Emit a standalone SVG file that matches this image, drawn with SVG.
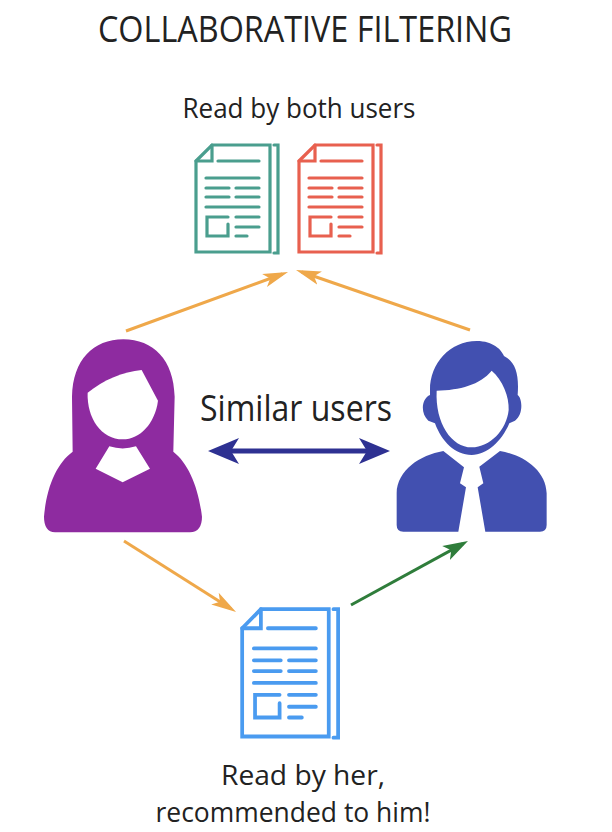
<svg xmlns="http://www.w3.org/2000/svg" xmlns:xlink="http://www.w3.org/1999/xlink" width="612" height="832" viewBox="0 0 612 832">
<style>
text{font-family:"Open Sans","Liberation Sans",sans-serif;fill:#222;text-anchor:middle}
.doc{fill:none;stroke:currentColor;stroke-width:3.2;stroke-linecap:round;stroke-linejoin:miter}
.conn{fill:none;stroke-width:3}
.conn.both{stroke-width:5}
</style>
<defs>
<symbol id="doc" overflow="visible">
<g class="doc">
<path d="M1,17 L17,1 H75 V108 H1 Z"/>
<path d="M17,1 V17 H1"/>
<path d="M79,1 H83 V109 H79"/>
<path d="M23,17 H64 M11,34 H64 M11,44 H34 M41,44 H64 M11,53 H34 M41,53 H64 M11,63 H64 M41,73 H64 M41,83 H64 M41,92 H52"/>
<path d="M33,73 H12 V92 H33 V80"/>
</g>
</symbol>
<marker id="hO" markerUnits="userSpaceOnUse" markerWidth="26" markerHeight="18" refX="19" refY="9" orient="auto"><path d="M0,2 L25,9 L0,16 L6,9 Z" fill="#EFA84A"/></marker>
<marker id="hG" markerUnits="userSpaceOnUse" markerWidth="26" markerHeight="18" refX="19" refY="9" orient="auto"><path d="M0,1 L25,9 L0,17 L6,9 Z" fill="#2F7D3B"/></marker>
<marker id="hB" markerUnits="userSpaceOnUse" markerWidth="32" markerHeight="28" refX="23" refY="14" orient="auto-start-reverse"><path d="M0,1 L31,14 L0,27 L8,14 Z" fill="#2E3192"/></marker>
</defs>
<text id="title" x="305" y="42" font-size="36" textLength="414" lengthAdjust="spacingAndGlyphs">COLLABORATIVE FILTERING</text>
<text id="label-both" x="299" y="118" font-size="28" textLength="233" lengthAdjust="spacingAndGlyphs">Read by both users</text>
<text id="label-similar" x="296" y="421" font-size="36" textLength="192" lengthAdjust="spacingAndGlyphs">Similar users</text>
<text id="label-her" x="303" y="785" font-size="28" textLength="164" lengthAdjust="spacingAndGlyphs">Read by her,</text>
<text id="label-rec" x="293" y="822" font-size="28" textLength="275" lengthAdjust="spacingAndGlyphs">recommended to him!</text>
<g id="doc-teal" style="color:#4A9E8E"><use xlink:href="#doc" href="#doc" x="195" y="144"/></g>
<g id="doc-red" style="color:#E8604F"><use xlink:href="#doc" href="#doc" x="298" y="144"/></g>
<g id="doc-blue" style="color:#4A9BF0"><use xlink:href="#doc" href="#doc" transform="translate(241 608) scale(1.17 1.19)"/></g>
<g id="user-woman" transform="translate(30 330) scale(.3333)">
<path fill="#8E2BA0" d="M75,607 Q42,605 42,560 C50,470 80,400 128,365 L126,200 C128,90 190,28 280,28 C370,28 432,90 434,200 L430,365 C475,400 505,470 516,560 Q516,605 480,607 Z"/>
<path fill="#fff" d="M173,188 C220,150 280,125 335,120 L384,212 C375,280 330,328 278,328 C215,328 170,265 173,188 Z"/>
<path fill="#fff" d="M238,349 Q278,362 318,349 L360,416 L278,457 L197,416 Z"/>
</g>
<g id="user-man" transform="translate(380 330) scale(.3333)">
<path fill="#4250B0" d="M150,180 C150,100 210,33 290,33 C340,33 365,60 372,78 C405,95 418,130 413,195 C428,205 430,255 405,272 L388,280 C365,335 320,375 275,375 C225,375 185,335 165,280 L145,272 C120,250 125,205 150,195 Z"/>
<path fill="#fff" d="M170,182 C240,180 300,165 335,122 C368,150 388,200 386,240 C380,300 330,352 275,352 C215,352 165,280 170,182 Z"/>
<path fill="#4250B0" d="M190,363 L252,412 L240,460 L258,472 L235,605 H70 Q50,605 50,585 V490 C52,420 120,375 190,363 Z"/>
<path fill="#4250B0" d="M360,363 L298,410 L310,460 L293,472 L316,605 H480 Q500,605 500,585 V490 C498,420 430,375 360,363 Z"/>
</g>
<g id="connectors">
<path class="conn" stroke="#EFA84A" d="M126,331 L282.4,274" marker-end="url(#hO)"/>
<path class="conn" stroke="#EFA84A" d="M470,330 L301.7,272" marker-end="url(#hO)"/>
<path class="conn" stroke="#EFA84A" d="M124,541 L231,608.8" marker-end="url(#hO)"/>
<path class="conn" stroke="#2F7D3B" d="M351,605 L462.7,543.9" marker-end="url(#hG)"/>
<path class="conn both" stroke="#2E3192" d="M216,451 H382" marker-start="url(#hB)" marker-end="url(#hB)"/>
</g>
</svg>
